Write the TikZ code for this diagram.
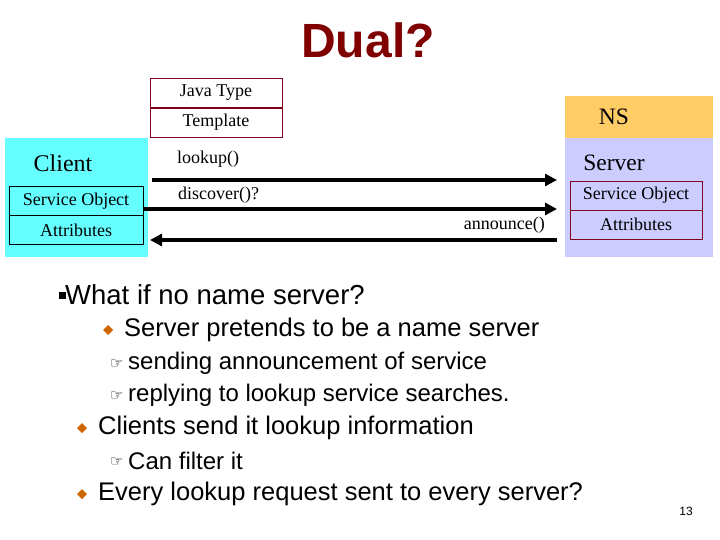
\documentclass[tikz,border=0pt]{standalone}
\usepackage{fontspec}
\setmainfont{Liberation Serif}
\newfontfamily\lsfam{Liberation Sans}
\newfontfamily\djfam{DejaVu Sans}
\usetikzlibrary{arrows.meta}
\definecolor{cyanbox}{HTML}{66FFFF}
\definecolor{orangebox}{HTML}{FFCC66}
\definecolor{lavbox}{HTML}{CCCCFF}
\definecolor{darkred}{HTML}{800000}
\definecolor{boxline}{HTML}{800020}
\definecolor{bul}{HTML}{CC6600}
\begin{document}
\begin{tikzpicture}[x=1pt,y=-1pt,
 cell/.style={draw=boxline,line width=0.8pt,minimum width=132pt,minimum height=29pt,inner sep=0pt,font=\fontsize{18}{18}\selectfont},
 dcell/.style={draw=black,line width=0.8pt,minimum width=134pt,minimum height=29pt,inner sep=0pt,font=\fontsize{18}{18}\selectfont},
 arr/.style={line width=4pt,-{Triangle[length=12pt,width=12pt]}},
 lbl/.style={font=\fontsize{18}{18}\selectfont,inner sep=0pt},
 t1/.style={font=\lsfam\fontsize{27.5}{27.5}\selectfont,anchor=west,inner sep=0pt},
 t2/.style={font=\lsfam\fontsize{25.5}{25.5}\selectfont,anchor=west,inner sep=0pt},
 t3/.style={font=\lsfam\fontsize{24}{24}\selectfont,anchor=west,inner sep=0pt},
 hand/.style={font=\djfam\fontsize{15}{15}\selectfont,anchor=west,inner sep=0pt}]
\useasboundingbox (0,0) rectangle (720,540);
\node[font=\lsfam\bfseries\fontsize{48}{48}\selectfont,text=darkred] (title) at (368,40) {Dual?};
% client
\fill[cyanbox] (5,138) rectangle (148,257);
\node[font=\fontsize{24}{24}\selectfont] (client) at (63,163) {Client};
\node[dcell] (cso) at (76,201) {Service Object};
\node[dcell] (cat) at (76,230) {Attributes};
% java type
\node[cell] (jt) at (216,93) {Java Type};
\node[cell] (tp) at (216,122.5) {Template};
% server
\fill[orangebox] (565,96) rectangle (713,138);
\fill[lavbox] (565,138) rectangle (713,257);
\node[font=\fontsize{23.5}{23.5}\selectfont] (ns) at (614,117) {NS};
\node[font=\fontsize{23.5}{23.5}\selectfont] (server) at (614,163) {Server};
\node[cell] (sso) at (636,195.5) {Service Object};
\node[cell] (sat) at (636,224.5) {Attributes};
% arrows
\coordinate (a1s) at (152,180); \coordinate (a1e) at (557,180);
\coordinate (a2s) at (146,209); \coordinate (a2e) at (557,209);
\coordinate (a3s) at (557,240); \coordinate (a3e) at (150,240);
\draw[arr] (a1s) -- (a1e);
\draw[arr] (cso.east |- a2s) -- (a2e);
\draw[arr] (a3s) -- (a3e);
\node[lbl,anchor=west] (l1) at (177,159) {lookup()};
\node[lbl,anchor=west] (l2) at (178,195) {discover()?};
\node[lbl,anchor=east] (l3) at (545,225) {announce()};
% bullets
\fill (59,292) rectangle (66,299);
\node[t1] (b1) at (65,295) {What if no name server?};
\fill[bul] (103,330) -- (108,325) -- (113,330) -- (108,335) -- cycle;
\node[t2] (b2) at (124,330) {Server pretends to be a name server};
\node[hand] (h1) at (110,364) {☞};
\node[t3] (b3) at (128,363) {sending announcement of service};
\node[hand] (h2) at (110,396) {☞};
\node[t3] (b4) at (128,395) {replying to lookup service searches.};
\fill[bul] (77,428) -- (82,423) -- (87,428) -- (82,433) -- cycle;
\node[t2] (b5) at (98,428) {Clients send it lookup information};
\node[hand] (h3) at (110,462) {☞};
\node[t3] (b6) at (128,461) {Can filter it};
\fill[bul] (77,494) -- (82,489) -- (87,494) -- (82,499) -- cycle;
\node[t2] (b7) at (98,494) {Every lookup request sent to every server?};
\node[font=\lsfam\fontsize{12}{12}\selectfont] (pg) at (686,511) {13};
\end{tikzpicture}
\end{document}
